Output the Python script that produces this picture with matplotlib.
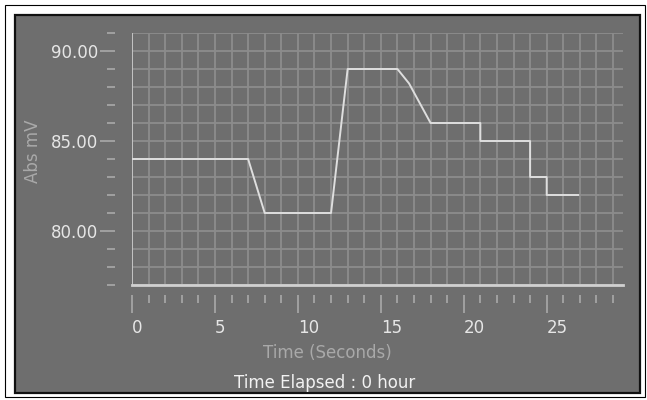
import numpy as np
import matplotlib
matplotlib.use("Agg")
import matplotlib.pyplot as plt
from matplotlib.patches import Rectangle
from matplotlib.ticker import MultipleLocator, FormatStrFormatter

# data
time_s = [0, 7, 8, 12, 13, 16, 16.7, 18, 21, 21, 24, 24, 25, 25, 26.9]
abs_mv = [84, 84, 81, 81, 89, 89, 88.2, 86, 86, 85, 85, 83, 83, 82, 82]

panel = "#6e6e6e"
grid_c = "#8c8c8c"
light = "#e6e6e6"
dim = "#a9a9a9"

fig = plt.figure(figsize=(6.47, 4.0), dpi=100)
fig.patch.set_facecolor("white")

# outer thin frame + grey panel (behind the axes)
fig.patches.append(Rectangle((4.5/647, 3/400), 640.5/647, 392.5/400, transform=fig.transFigure,
                             facecolor="white", edgecolor="black", lw=0.8, zorder=-3))
fig.patches.append(Rectangle((15/647, 7/400), 625/647, 378/400, transform=fig.transFigure,
                             facecolor=panel, edgecolor="#111111", lw=1.6, zorder=-2))

ax = fig.add_axes([132/647, 1 - 285/400, (623 - 132)/647, (285 - 33)/400])
ax.set_facecolor(panel)
ax.set_xlim(0, 29.6)
ax.set_ylim(77, 91)

ax.xaxis.set_major_locator(MultipleLocator(5))
ax.xaxis.set_minor_locator(MultipleLocator(1))
ax.yaxis.set_major_locator(MultipleLocator(5))
ax.yaxis.set_minor_locator(MultipleLocator(1))
ax.yaxis.set_major_formatter(FormatStrFormatter("%.2f"))

ax.grid(which="both", color=grid_c, lw=1.3, zorder=0)
ax.set_axisbelow(True)

for s in ["top", "right"]:
    ax.spines[s].set_visible(False)
ax.spines["left"].set_position(("outward", 12.5))
ax.spines["left"].set_visible(False)
ax.spines["bottom"].set_position(("outward", 7.5))
ax.spines["bottom"].set_visible(False)
ax.axvline(0, color="#c8c8c8", lw=1.3, zorder=2)
ax.axhline(77, color="#d0d0d0", lw=2, zorder=2, clip_on=False)

ax.tick_params(axis="y", which="major", length=11, width=1.2, color=dim, pad=1,
               labelsize=12, labelcolor=light)
ax.tick_params(axis="y", which="minor", length=6, width=1.2, color=dim)
ax.tick_params(axis="x", which="major", length=13, width=1.2, color=dim, pad=4,
               labelsize=12, labelcolor=light)
ax.tick_params(axis="x", which="minor", length=6, width=1.2, color=dim)
for lab in ax.get_xticklabels():
    lab.set_horizontalalignment("left")

ax.plot(time_s, abs_mv, color="#dedede", lw=1.4, zorder=3)

fig.text(33/647, 1 - 151/400, "Abs mV", rotation=90, ha="center", va="center",
         fontsize=12, color=dim)
fig.text(327/647, 1 - 353/400, "Time (Seconds)", ha="center", va="center",
         fontsize=12, color=dim)
fig.text(325/647, 1 - 383/400, "Time Elapsed : 0 hour", ha="center", va="center",
         fontsize=12, color="#f2f2f2")

fig.savefig("out.png", dpi=100)
